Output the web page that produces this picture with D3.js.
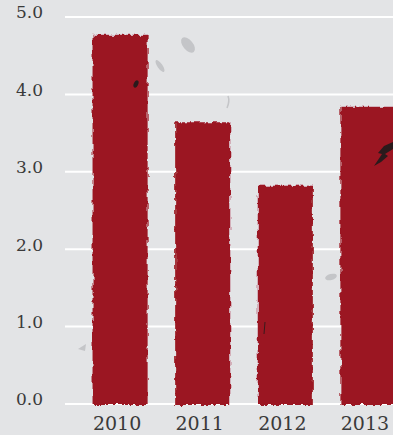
<!DOCTYPE html>
<html><head><meta charset="utf-8">
<script src="https://cdn.jsdelivr.net/npm/d3@7"></script>
<style>html,body{margin:0;padding:0;background:#e3e4e6;}svg{display:block;}</style>
</head><body>
<script>
const years = ["2010", "2011", "2012", "2013"];
const values = [4.77, 3.64, 2.82, 3.84];
const yTicks = [0, 1, 2, 3, 4, 5];

const W = 393, H = 435;
const svg = d3.select("body").append("svg").attr("width", W).attr("height", H);
svg.append("rect").attr("width", W).attr("height", H).attr("fill", "#e3e4e6");

const defs = svg.append("defs");
const f = defs.append("filter").attr("id", "rough").attr("x", "-5%").attr("y", "-5%").attr("width", "110%").attr("height", "110%");
f.append("feTurbulence").attr("type", "fractalNoise").attr("baseFrequency", "0.25 0.12").attr("numOctaves", 2).attr("seed", 5).attr("result", "n");
f.append("feDisplacementMap").attr("in", "SourceGraphic").attr("in2", "n").attr("scale", 5).attr("xChannelSelector", "R").attr("yChannelSelector", "G");

const x = d3.scaleBand().domain(years).range([65, 423]).paddingInner(1/3).paddingOuter(1/3);
const y = d3.scaleLinear().domain([0, 5]).range([404, 17]);

const yAxis = d3.axisLeft(y).tickValues(yTicks).tickFormat(d3.format(".1f")).tickSize(0);
const gy = svg.append("g").attr("transform", "translate(43,0)").call(yAxis);
gy.select(".domain").remove();
gy.selectAll("text").attr("font-family", "DejaVu Serif").attr("font-size", 17).attr("fill", "#3a3a3a")
  .attr("dy", "0.05em").attr("x", 0).attr("text-anchor", "end");

svg.append("g").selectAll("line").data(yTicks).join("line")
  .attr("x1", 65).attr("x2", W).attr("y1", d => y(d)).attr("y2", d => y(d))
  .attr("stroke", "#ffffff").attr("stroke-width", 2);

// decorative grey splotches
const deco = svg.append("g").attr("fill", "#c4c5c8");
deco.append("ellipse").attr("cx", 188).attr("cy", 45).attr("rx", 5).attr("ry", 9).attr("transform", "rotate(-40,188,45)");
deco.append("ellipse").attr("cx", 160).attr("cy", 66).attr("rx", 2.5).attr("ry", 7).attr("transform", "rotate(-35,160,66)");
deco.append("ellipse").attr("cx", 331).attr("cy", 277).attr("rx", 6).attr("ry", 3).attr("transform", "rotate(-15,331,277)");
deco.append("path").attr("d", "M78,349 L86,344 L85,351 Z");
deco.append("path").attr("d", "M228,96 q2,5 -1,12").attr("fill", "none").attr("stroke", "#c4c5c8").attr("stroke-width", 1.5);

svg.append("g").attr("filter", "url(#rough)").selectAll("rect").data(values).join("rect")
  .attr("x", (d, i) => x(years[i]))
  .attr("width", x.bandwidth())
  .attr("y", d => y(d))
  .attr("height", d => y(0) - y(d) + 1)
  .attr("fill", "#9b1420");

// dark specks
const sp = svg.append("g").attr("fill", "#2a1a1c");
sp.append("ellipse").attr("cx", 136).attr("cy", 84).attr("rx", 2.2).attr("ry", 3.8).attr("transform", "rotate(25,136,84)");
sp.append("path").attr("d", "M393,142 L384,146 L378,153 L382,154 L374,166 L381,162 L388,156 L385,154 L393,149 Z");
sp.append("path").attr("d", "M265,322 l-1,12").attr("stroke", "#3a1a1c").attr("stroke-width", 1);

const xAxis = d3.axisBottom(x).tickSize(0);
const gx = svg.append("g").attr("transform", "translate(-3,412)").call(xAxis);
gx.select(".domain").remove();
gx.selectAll("text").attr("font-family", "DejaVu Serif").attr("font-size", 19).attr("fill", "#3a3a3a").attr("dy", "0.8em");
</script>
</body></html>
